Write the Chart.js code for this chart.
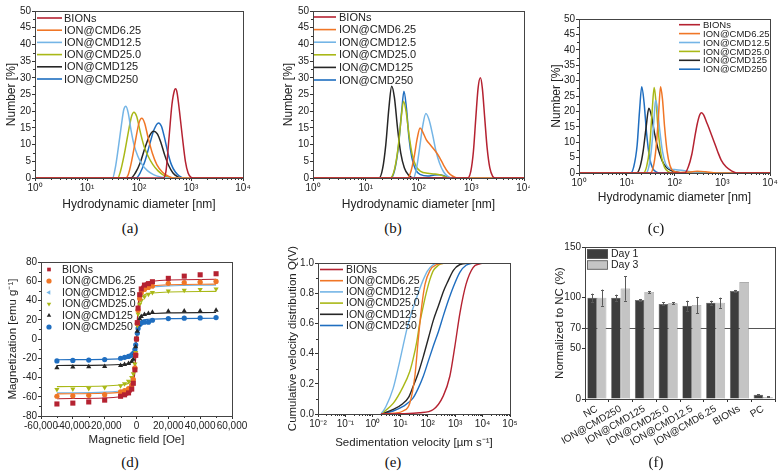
<!DOCTYPE html>
<html><head><meta charset="utf-8">
<script src="https://cdn.jsdelivr.net/npm/chart.js@4.4.1/dist/chart.umd.min.js"></script>
<style>
html,body{margin:0;padding:0;background:#fff}
body{width:784px;height:475px;position:relative;overflow:hidden}
canvas{position:absolute}
.cap{position:absolute;font-family:'Liberation Serif','Times New Roman',serif;font-size:15px;color:#111;transform:translateX(-50%);white-space:nowrap;line-height:1}
</style></head><body>
<canvas id="ca" style="left:0px;top:0px" width="265" height="215"></canvas>
<canvas id="cb" style="left:265px;top:0px" width="270" height="215"></canvas>
<canvas id="cc" style="left:530px;top:0px" width="254" height="215"></canvas>
<canvas id="cd" style="left:0px;top:238px" width="265" height="215"></canvas>
<canvas id="ce" style="left:265px;top:238px" width="265" height="215"></canvas>
<canvas id="cf" style="left:530px;top:238px" width="254" height="222"></canvas>
<div class="cap" style="left:130px;top:221px">(a)</div>
<div class="cap" style="left:393px;top:221px">(b)</div>
<div class="cap" style="left:656px;top:221px">(c)</div>
<div class="cap" style="left:130px;top:455px">(d)</div>
<div class="cap" style="left:393px;top:455px">(e)</div>
<div class="cap" style="left:656px;top:455px">(f)</div>
<script>
// ---------- series names / colours ----------
const seriesNames = ['BIONs','ION@CMD6.25','ION@CMD12.5','ION@CMD25.0','ION@CMD125','ION@CMD250'];
const seriesColors = ['#b52231','#f07626','#74b5e6','#a9b817','#262626','#1f6ec0'];

// ---------- tick values / labels ----------
const dlsTicks = [1,10,100,1000,10000];
const dlsTickLabels = ['10⁰','10¹','10²','10³','10⁴'];
const numTicks = [0,5,10,15,20,25,30,35,40,45,50];
const numTickLabels = ['0','5','10','15','20','25','30','35','40','45','50'];
const magHTicks = [-60000,-40000,-20000,0,20000,40000,60000];
const magHTickLabels = ['-60,000','-40,000','-20,000','0','20,000','40,000','60,000'];
const magMTicks = [-80,-60,-40,-20,0,20,40,60,80];
const magMTickLabels = ['-80','-60','-40','-20','0','20','40','60','80'];
const sedTicks = [0.01,0.1,1,10,100,1000,10000,100000];
const sedTickLabels = ['10⁻²','10⁻¹','10⁰','10¹','10²','10³','10⁴','10⁵'];
const qTicks = [0,0.2,0.4,0.6,0.8,1.0];
const qTickLabels = ['0.0','0.2','0.4','0.6','0.8','1.0'];
const ncTicks = [0,50,70,100,150];
const ncTickLabels = ['0','50','70','100','150'];

// ---------- (a) DLS number distribution, [diameter nm, number %] ----------
const A_BIONs   = [[1,0],[290,0],[330,2],[380,12.5],[430,22],[480,26.2],[507,26.7],[540,25.5],[600,20],[680,12.5],[780,5],[880,1.5],[1000,0.2],[1100,0],[10000,0]];
const A_CMD6_25 = [[1,0],[55,0],[62,1],[72,5],[85,11],[100,16.5],[113,17.9],[128,16.5],[150,12],[180,7.5],[220,4],[280,1.8],[360,0.6],[460,0],[10000,0]];
const A_CMD12_5 = [[1,0],[31,0],[35,3],[40,9],[46,16],[51,20.5],[56,21.5],[62,19.5],[70,14.5],[80,10],[95,6.5],[115,4],[145,2.2],[190,1],[260,0.3],[340,0],[10000,0]];
const A_CMD25_0 = [[1,0],[39,0],[44,2],[52,7],[62,13.5],[72,18.5],[80,19.7],[90,18.5],[105,14],[125,9.5],[150,6.5],[185,4],[230,2.2],[300,0.8],[400,0.1],[450,0],[10000,0]];
const A_CMD125  = [[1,0],[70,0],[85,1.5],[105,4.5],[130,9],[160,12.7],[190,14],[225,13.2],[265,10.5],[310,7],[370,3.8],[450,1.5],[550,0.4],[650,0],[10000,0]];
const A_CMD250  = [[1,0],[88,0],[105,1.5],[130,5],[160,10],[195,14.5],[237,16.5],[270,15.5],[310,12],[360,7.5],[420,4],[500,1.8],[600,0.6],[750,0],[10000,0]];

// ---------- (b) ----------
const B_BIONs   = [[1,0],[850,0],[980,2],[1100,8],[1220,18],[1350,27],[1490,30],[1620,27],[1800,18],[2000,9],[2250,3],[2550,0.5],[2900,0],[10000,0]];
const B_CMD6_25 = [[1,0],[63,0],[72,2],[82,6],[95,12],[107,15],[120,13.8],[140,11.5],[170,9.8],[210,8],[250,6.2],[300,3.8],[360,1.8],[440,0.6],[550,0],[10000,0]];
const B_CMD12_5 = [[1,0],[80,0],[92,3],[105,9],[120,15.5],[138,19.3],[158,17.5],[185,13],[215,8],[250,4.5],[300,1.8],[360,0.5],[450,0],[10000,0]];
const B_CMD25_0 = [[1,0],[29,0],[35,2.5],[41,9],[47,18],[52,23],[58,20],[66,13],[76,7],[90,3.5],[110,2],[150,1.4],[200,1.2],[260,0.9],[320,0.4],[400,0],[10000,0]];
const B_CMD125  = [[1,0],[18,0],[21,3],[24,10],[27.5,21],[31,27.5],[35,24],[40,15],[46,7.5],[54,3],[65,0.8],[80,0],[10000,0]];
const B_CMD250  = [[1,0],[30,0],[36,3],[42,10],[48,20],[53,26],[59,21],[66,12],[75,6],[88,2.5],[110,1],[150,0.6],[200,0.9],[250,1],[310,0.6],[380,0.1],[450,0],[10000,0]];

// ---------- (c) ----------
const C_BIONs   = [[1,0],[165,0],[195,2],[230,6],[265,11.5],[300,16],[340,19],[370,19.6],[410,18.8],[470,16.5],[560,13.5],[680,10],[800,7],[950,4.2],[1200,2],[1600,0.6],[2000,0],[10000,0]];
const C_CMD6_25 = [[1,0],[31,0],[36,2],[41,8],[46,18],[51,28],[56,24],[62,15],[70,7],[80,2.5],[95,0.6],[130,0.2],[200,0.3],[300,0.6],[450,0.4],[650,0.1],[800,0],[10000,0]];
const C_CMD12_5 = [[1,0],[25,0],[29,2],[33,8],[37,17],[40,23.6],[44,21],[49,14],[56,7],[65,3],[78,1.5],[100,1.1],[140,0.9],[190,0.6],[250,0.2],[320,0],[10000,0]];
const C_CMD25_0 = [[1,0],[22,0],[26,2],[30,8],[34,20],[37.5,27.8],[41,23],[46,13],[53,5.5],[62,1.8],[75,0.4],[90,0],[10000,0]];
const C_CMD125  = [[1,0],[16,0],[19,2],[22,7],[25.5,15],[29,21],[33,18.5],[38,13],[45,8],[55,4],[68,1.8],[85,0.8],[110,0.3],[150,0],[10000,0]];
const C_CMD250  = [[1,0],[12,0],[14,2],[16.5,9],[18.5,20],[20.6,28],[23,23],[26,13],[30,5],[35,1.5],[42,0.3],[50,0],[10000,0]];

// ---------- (d) magnetization: measured points and fitted curves ----------
const magH = [-50000,-40000,-30000,-20000,-10000,-7500,-5000,-3000,-2000,-1000,-500,0,500,1000,2000,3000,5000,7500,10000,20000,30000,40000,50000];
const magBIONs   = [-67.5,-66.6,-65.4,-63.5,-59.5,-58,-56,-52,-46,-32,-17,0,17,32,46,52,56,57.5,59.5,63,65.3,66.7,67.8];
const magCMD6_25 = [-59.5,-59,-58.5,-57.8,-55,-53.5,-51.5,-48,-42,-30,-16,0,16,30,42,48,51.5,53.5,55,57.8,58.5,59,59.8];
const magCMD12_5 = [-60,-59.4,-58.7,-57.6,-55,-53.8,-51.5,-47.5,-42,-30,-16,0,16,30,42,47.5,51.5,53.8,55,57.6,58.7,59.4,60];
const magCMD25_0 = [-52.5,-52,-51.5,-50.5,-48.5,-46.5,-44,-40,-36,-26,-14,0,14,26,36,40,44,46.5,48.2,50,50.6,51.3,52];
const magCMD125  = [-29.8,-29.2,-28.9,-28.6,-27.5,-26.5,-25.5,-23.5,-21,-15,-8,0,8,15,21,23.5,25.5,26.4,27.8,28.9,29.2,29.2,30];
const magCMD250  = [-22.8,-22.3,-21.9,-21.4,-20,-19,-18,-16.5,-15,-11,-6,0,6,11,15,16.5,17.5,17.5,19.5,21.2,21.6,21.9,22.3];
const fitH = [-50000,-20000,-10000,-7500,-5000,-3000,-2000,-1000,-500,0,500,1000,2000,3000,5000,7500,10000,20000,50000];
const fitBIONs   = [-62,-61.3,-60,-59.2,-57.7,-54,-48.4,-34,-18.6,0,18.6,34,48.4,54,57.7,59.2,60,61.3,62];
const fitCMD6_25 = [-57,-56.4,-55.2,-54.4,-53,-49.6,-44.5,-31.4,-17.1,0,17.1,31.4,44.5,49.6,53,54.4,55.2,56.4,57];
const fitCMD12_5 = [-56,-55.2,-54,-53.5,-52,-48.7,-43.7,-30.8,-16.8,0,16.8,30.8,43.7,48.7,52,53.5,54,55.2,56];
const fitCMD25_0 = [-49.5,-48.8,-47.8,-47.3,-46,-43,-38.6,-27.2,-14.9,0,14.9,27.2,38.6,43,46,47.3,47.8,48.8,49.5];
const fitCMD125  = [-27.5,-27.1,-26.5,-26.3,-25.6,-23.9,-21.5,-15.1,-8.3,0,8.3,15.1,21.5,23.9,25.6,26.3,26.5,27.1,27.5];
const fitCMD250  = [-21.5,-21.2,-20.7,-20.5,-20,-18.7,-16.8,-11.8,-6.5,0,6.5,11.8,16.8,18.7,20,20.5,20.7,21.2,21.5];
const magStyles = ['rect','circle','triangle','triangle','triangle','circle'];
const magRots = [0,0,-90,180,0,0];

// ---------- (e) cumulative sedimentation velocity, [v µm/s, Q] ----------
const E_BIONs   = [[2,0],[10,0.002],[50,0.008],[160,0.03],[370,0.12],[640,0.25],[980,0.45],[1500,0.67],[2500,0.86],[4500,0.97],[8000,0.995],[10500,1]];
const E_CMD6_25 = [[2,0],[6,0.005],[12.6,0.02],[22,0.07],[34,0.25],[45,0.49],[60,0.71],[80,0.86],[120,0.95],[210,0.99],[480,1]];
const E_CMD12_5 = [[2,0],[3,0.05],[5.5,0.17],[8.5,0.31],[12.6,0.45],[19,0.59],[29,0.7],[45,0.8],[69,0.89],[100,0.95],[150,0.985],[220,1],[850,1]];
const E_CMD25_0 = [[2,0],[5.5,0.07],[12.6,0.18],[22,0.28],[29,0.36],[40,0.48],[51,0.6],[68,0.71],[88,0.8],[120,0.89],[160,0.95],[230,0.98],[300,0.995],[640,1]];
const E_CMD125  = [[2,0],[5.5,0.03],[12.6,0.07],[20,0.11],[29,0.18],[45,0.27],[69,0.38],[105,0.5],[160,0.62],[250,0.72],[370,0.81],[550,0.88],[850,0.95],[1500,0.99],[3400,1]];
const E_CMD250  = [[2,0],[5.5,0.02],[12.6,0.05],[29,0.105],[45,0.17],[69,0.25],[105,0.35],[160,0.45],[250,0.55],[370,0.65],[560,0.75],[850,0.84],[1500,0.94],[2500,0.985],[4500,1]];

// ---------- (f) viability ----------
const fCats = ['NC','ION@CMD250','ION@CMD125','ION@CMD25.0','ION@CMD12.5','ION@CMD6.25','BIONs','PC'];
const fDay1 = [100,100,97.7,93.8,92,95,106.6,4.3];
const fDay3 = [100,109,105.6,94.4,92.8,95,115.4,2];
const fErr1 = [4,3,1,1.5,5,2,1,0.5];
const fErr3 = [8,12,1,1,8,5,0,0.5];
const fNames = ['Day 1','Day 3'];
const fColors = ['#3d3d3d','#c4c4c4'];

// ================= helpers =================
Chart.defaults.font.family = "'Liberation Sans', Arial, Helvetica, sans-serif";
Chart.defaults.font.size = 10;
Chart.defaults.color = '#222';
Chart.defaults.animation = false;
Chart.defaults.plugins.legend.display = false;
Chart.defaults.plugins.tooltip.enabled = false;

const FONT = "'Liberation Sans', Arial, Helvetica, sans-serif";
const decoCfg = {};

function drawMarker(ctx, style, rot, r, x, y, col){
  ctx.save(); ctx.translate(x,y); ctx.rotate(rot*Math.PI/180);
  ctx.fillStyle = col; ctx.beginPath();
  if(style==='rect'){ const s=r*Math.SQRT1_2; ctx.rect(-s,-s,2*s,2*s); }
  else if(style==='circle'){ ctx.arc(0,0,r,0,Math.PI*2); }
  else { let a=0; ctx.moveTo(Math.sin(a)*r,-Math.cos(a)*r); a+=2*Math.PI/3; ctx.lineTo(Math.sin(a)*r,-Math.cos(a)*r); a+=2*Math.PI/3; ctx.lineTo(Math.sin(a)*r,-Math.cos(a)*r); ctx.closePath(); }
  ctx.fill(); ctx.restore();
}

const deco = {
  id:'deco',
  beforeDraw(chart){ const c=chart.ctx; c.save(); c.fillStyle='#fff'; c.fillRect(0,0,chart.width,chart.height); c.restore(); },
  beforeDatasetsDraw(chart){
    const d = decoCfg[chart.canvas.id]; if(!d || d.hline===undefined) return;
    const a=chart.chartArea, c=chart.ctx, y=Math.round(chart.scales.y.getPixelForValue(d.hline))+0.5;
    c.save(); c.strokeStyle='#555'; c.lineWidth=1; c.beginPath(); c.moveTo(a.left,y); c.lineTo(a.right,y); c.stroke(); c.restore();
  },
  afterDatasetsDraw(chart){
    const d = decoCfg[chart.canvas.id]; if(!d || !d.err) return;
    const c=chart.ctx, ys=chart.scales.y;
    c.save(); c.strokeStyle='#5a5a5a'; c.lineWidth=1;
    d.err.forEach((errs,di)=>{
      const meta=chart.getDatasetMeta(di), vals=chart.data.datasets[di].data;
      meta.data.forEach((bar,j)=>{
        const e=errs[j]; if(!e) return;
        const x=Math.round(bar.x)+0.5, y1=ys.getPixelForValue(vals[j]+e), y2=ys.getPixelForValue(vals[j]-e);
        c.beginPath(); c.moveTo(x,y1); c.lineTo(x,y2);
        c.moveTo(x-1.5,Math.round(y1)+0.5); c.lineTo(x+1.5,Math.round(y1)+0.5);
        c.moveTo(x-1.5,Math.round(y2)+0.5); c.lineTo(x+1.5,Math.round(y2)+0.5); c.stroke();
      });
    });
    c.restore();
  },
  afterDraw(chart){
    const d = decoCfg[chart.canvas.id]; if(!d) return;
    const c=chart.ctx, a=chart.chartArea, xs=chart.scales.x, ys=chart.scales.y;
    c.save(); c.strokeStyle='#333'; c.lineWidth=1;
    (d.minorX||[]).forEach(v=>{ const p=Math.round(xs.getPixelForValue(v))+0.5; if(p<a.left||p>a.right) return; c.beginPath(); c.moveTo(p,a.bottom); c.lineTo(p,a.bottom+2); c.stroke(); });
    (d.minorY||[]).forEach(v=>{ const p=Math.round(ys.getPixelForValue(v))+0.5; if(p<a.top||p>a.bottom) return; c.beginPath(); c.moveTo(a.left,p); c.lineTo(a.left-2,p); c.stroke(); });
    c.strokeStyle='#444';
    c.strokeRect(Math.round(a.left)+0.5, Math.round(a.top)+0.5, Math.round(a.right)-Math.round(a.left), Math.round(a.bottom)-Math.round(a.top));
    const L=d.legend;
    if(L){
      c.font = L.fs+'px '+FONT; c.textBaseline='middle'; c.textAlign='left';
      L.names.forEach((n,i)=>{
        const y=L.y0+i*L.dy, col=L.colors[i];
        if(L.kind==='line'){ c.strokeStyle=col; c.lineWidth=1.6; c.beginPath(); c.moveTo(L.x0,y); c.lineTo(L.x1,y); c.stroke(); }
        else if(L.kind==='marker'){ drawMarker(c, L.styles[i], L.rots[i], L.r, L.x0, y, col); }
        else if(L.kind==='box'){ c.fillStyle=col; c.fillRect(L.x0,y-L.bh/2,L.x1-L.x0,L.bh); c.strokeStyle='#555'; c.lineWidth=0.8; c.strokeRect(L.x0+0.5,y-L.bh/2+0.5,L.x1-L.x0-1,L.bh-1); }
        c.fillStyle='#222'; c.fillText(n, L.tx, y+0.5);
      });
    }
    c.restore();
  }
};
Chart.register(deco);

function scaleCfg(cfg, axis, P){
  const lh = P.tfs*1.2;
  const s = {
    type: cfg.type, position: axis==='x'?'bottom':'left',
    grid:{display:true, drawOnChartArea:false, drawTicks:true, tickLength:3, tickColor:'#333'},
    border:{display:true, color:'#444', width:1},
    ticks:{padding:1, autoSkip:false, font:{size:cfg.fs||10}, color:'#222', maxRotation:cfg.rot||0, minRotation:cfg.rot||0},
    title:{display:!!cfg.title, text:cfg.title||'', color:'#222', font:{size:P.tfs, lineHeight:1.2}}
  };
  if(cfg.min!==undefined) s.min=cfg.min;
  if(cfg.max!==undefined) s.max=cfg.max;
  if(cfg.vals){
    const vals=cfg.vals, labels=cfg.labels;
    s.afterBuildTicks = sc => { sc.ticks = vals.map(v=>({value:v})); };
    s.ticks.callback = (v,i) => labels[i];
  }
  if(axis==='x'){
    s.afterFit = sc => { sc.height = P.oy+P.H-P.B; };
    s.title.padding = {top:0, bottom: Math.max(0,(P.oy+P.H-P.xty)-lh/2)};
  } else {
    s.afterFit = sc => { sc.width = P.L-P.ox; };
    s.title.padding = {top: Math.max(0,(P.ytx-P.ox)-lh/2), bottom:0};
  }
  return s;
}

function lineDS(label, pts, color, w){
  return {label, data: pts.map(p=>({x:p[0],y:p[1]})), borderColor:color, backgroundColor:color,
    borderWidth:w||1.5, pointRadius:0, showLine:true, fill:false, cubicInterpolationMode:'monotone'};
}

function build(id, P, type, data, xc, yc){
  const el=document.getElementById(id);
  return new Chart(el, {
    type, data,
    options:{
      responsive:false, animation:false, events:[],
      layout:{padding:{left:0, top:P.T-P.oy, right:P.ox+P.W-P.R, bottom:0}},
      scales:{ x: scaleCfg(xc,'x',P), y: scaleCfg(yc,'y',P) },
      plugins:{legend:{display:false}, tooltip:{enabled:false}}
    }
  });
}

function logMinor(e0,e1){ const out=[]; for(let e=e0;e<e1;e++){ for(let k=2;k<=9;k++) out.push(k*Math.pow(10,e)); } return out; }
function linMinor(a,b,step){ const out=[]; for(let v=a; v<=b+1e-9; v+=step) out.push(v); return out; }

function legendLine(ox,oy,x0,x1,tx,y0,dy,fs){
  return {kind:'line', names:seriesNames, colors:seriesColors, x0:x0-ox, x1:x1-ox, tx:tx-ox, y0:y0-oy, dy, fs};
}

// ================= DLS panels =================
function dlsPanel(id, P, sets, legend){
  decoCfg[id] = { minorX: logMinor(0,4), minorY: linMinor(2.5,47.5,5), legend };
  const ds = sets.map((s,i)=>lineDS(seriesNames[i], s, seriesColors[i]));
  build(id, P, 'scatter', {datasets: ds},
    {type:'logarithmic', min:1, max:10000, vals:dlsTicks, labels:dlsTickLabels, title:'Hydrodynamic diameter [nm]'},
    {type:'linear', min:0, max:50, vals:numTicks, labels:numTickLabels, title:'Number [%]'});
}

const PA = {ox:0,oy:0,W:265,H:215,L:35,T:11,R:243,B:178,ytx:12,xty:205,tfs:12};
dlsPanel('ca', PA, [A_BIONs,A_CMD6_25,A_CMD12_5,A_CMD25_0,A_CMD125,A_CMD250], legendLine(0,0,37,62,64,18,12.2,11));

const PB = {ox:265,oy:0,W:270,H:215,L:313,T:11,R:524,B:178,ytx:289,xty:205,tfs:12};
dlsPanel('cb', PB, [B_BIONs,B_CMD6_25,B_CMD12_5,B_CMD25_0,B_CMD125,B_CMD250], legendLine(265,0,314,336,339,17,12.6,11));

const PC = {ox:530,oy:0,W:254,H:215,L:579,T:19,R:770,B:173,ytx:557,xty:198,tfs:12};
dlsPanel('cc', PC, [C_BIONs,C_CMD6_25,C_CMD12_5,C_CMD25_0,C_CMD125,C_CMD250], legendLine(530,0,679,700,703,24.7,8.9,9.5));

// ================= (d) magnetization =================
(function(){
  const P = {ox:0,oy:238,W:265,H:215,L:41,T:262,R:232,B:416,ytx:13,xty:440,tfs:11.5};
  const ptsSets = [magBIONs,magCMD6_25,magCMD12_5,magCMD25_0,magCMD125,magCMD250];
  const fitSets = [fitBIONs,fitCMD6_25,fitCMD12_5,fitCMD25_0,fitCMD125,fitCMD250];
  const radii = [3.6,2.6,3,3,3,2.6];
  const ds = [];
  ptsSets.forEach((vals,i)=>{
    ds.push({label:seriesNames[i], data: magH.map((h,k)=>({x:h,y:vals[k]})), showLine:false,
      pointStyle:magStyles[i], rotation:magRots[i], pointRadius:radii[i], pointBorderWidth:0,
      backgroundColor:seriesColors[i], borderColor:seriesColors[i]});
  });
  fitSets.forEach((vals,i)=>{
    ds.push(lineDS(seriesNames[i]+' fit', fitH.map((h,k)=>[h,vals[k]]), seriesColors[i], 1.1));
  });
  decoCfg['cd'] = { minorX: linMinor(-50000,50000,20000), minorY: linMinor(-70,70,20),
    legend:{kind:'marker', names:seriesNames, colors:seriesColors, styles:magStyles, rots:magRots, r:2.6,
      x0:49, tx:62, y0:269.5-238, dy:11.5, fs:10.5} };
  build('cd', P, 'scatter', {datasets: ds},
    {type:'linear', min:-60000, max:60000, vals:magHTicks, labels:magHTickLabels, title:'Magnetic field [Oe]'},
    {type:'linear', min:-80, max:80, vals:magMTicks, labels:magMTickLabels, title:'Magnetization [emu g⁻¹]'});
})();

// ================= (e) sedimentation =================
(function(){
  const P = {ox:265,oy:238,W:265,H:215,L:318,T:263,R:510,B:414,ytx:293,xty:443,tfs:11.5};
  const sets = [E_BIONs,E_CMD6_25,E_CMD12_5,E_CMD25_0,E_CMD125,E_CMD250];
  const ds = sets.map((s,i)=>lineDS(seriesNames[i], s, seriesColors[i], 1.4));
  decoCfg['ce'] = { minorX: logMinor(-2,5), minorY: linMinor(0.1,0.9,0.2),
    legend: legendLine(265,238,320,343,346,269.5,11.2,10.5) };
  build('ce', P, 'scatter', {datasets: ds},
    {type:'logarithmic', min:0.01, max:100000, vals:sedTicks, labels:sedTickLabels, title:'Sedimentation velocity [µm s⁻¹]'},
    {type:'linear', min:0, max:1, vals:qTicks, labels:qTickLabels, title:'Cumulative velocity distribution Q(V)'});
})();

// ================= (f) viability =================
(function(){
  const P = {ox:530,oy:238,W:254,H:222,L:585,T:247,R:775,B:399,ytx:560,xty:470,tfs:11.5};
  decoCfg['cf'] = { hline:70, err:[fErr1,fErr3],
    legend:{kind:'box', names:fNames, colors:fColors, x0:587-530, x1:608-530, tx:611-530, y0:254-238, dy:11, bh:9.5, fs:10.5} };
  build('cf', P, 'bar', {labels:fCats, datasets:[
      {label:fNames[0], data:fDay1, backgroundColor:fColors[0], borderColor:'#555', borderWidth:0.6, categoryPercentage:0.8, barPercentage:1.0},
      {label:fNames[1], data:fDay3, backgroundColor:fColors[1], borderColor:'#888', borderWidth:0.6, categoryPercentage:0.8, barPercentage:1.0}
    ]},
    {type:'category', rot:30, fs:10},
    {type:'linear', min:0, max:150, vals:ncTicks, labels:ncTickLabels, title:'Normalized to NC (%)'});
})();
</script>
</body></html>
